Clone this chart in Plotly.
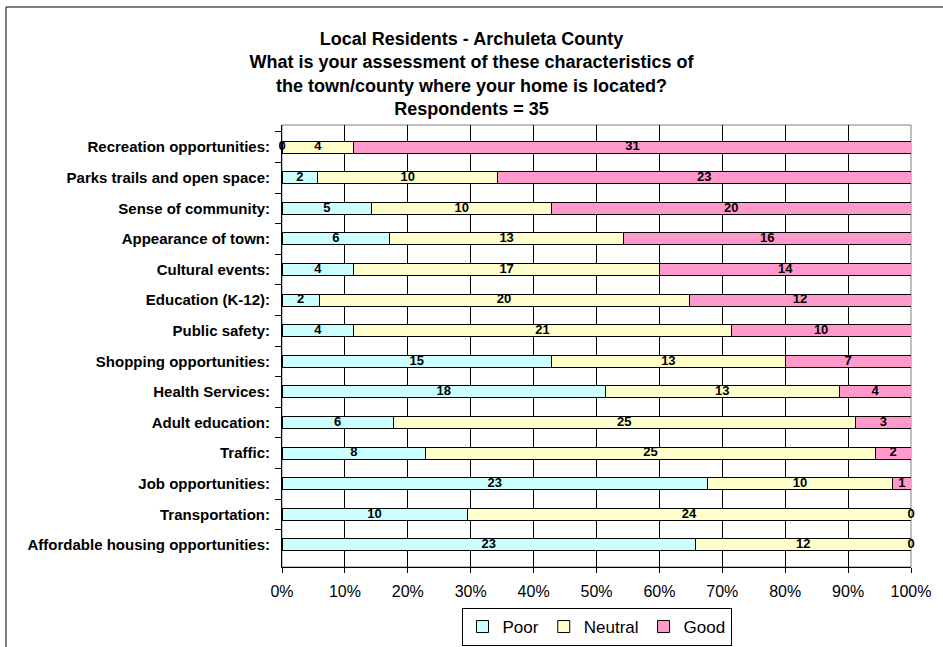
import plotly.graph_objects as go

# Survey answers (counts) per characteristic, top to bottom as in the chart
categories = [
    "Recreation opportunities:",
    "Parks trails and open space:",
    "Sense of community:",
    "Appearance of town:",
    "Cultural events:",
    "Education (K-12):",
    "Public safety:",
    "Shopping opportunities:",
    "Health Services:",
    "Adult education:",
    "Traffic:",
    "Job opportunities:",
    "Transportation:",
    "Affordable housing opportunities:",
]
poor = [0, 2, 5, 6, 4, 2, 4, 15, 18, 6, 8, 23, 10, 23]
neutral = [4, 10, 10, 13, 17, 20, 21, 13, 13, 25, 25, 10, 24, 12]
good = [31, 23, 20, 16, 14, 12, 10, 7, 4, 3, 2, 1, 0, 0]

series = [("Poor", poor, "#CCFFFF"), ("Neutral", neutral, "#FFFFCC"), ("Good", good, "#FF99CC")]
tick_vals = [0, 10, 20, 30, 40, 50, 60, 70, 80, 90, 100]
tick_text = [f"{v}%" for v in tick_vals]

fig = go.Figure()
for name, vals, col in series:
    fig.add_trace(go.Bar(
        y=categories, x=vals, name=name, orientation="h",
        marker=dict(color=col, line=dict(color="black", width=1)),
        hoverinfo="skip",
    ))

# data labels at the middle of each segment (in percent of the row total)
totals = [p + n + g for p, n, g in zip(poor, neutral, good)]
start = [0] * len(categories)
for name, vals, col in series:
    xs = []
    for i, v in enumerate(vals):
        pct = 100 * v / totals[i]
        xs.append(start[i] + pct / 2)
        start[i] += pct
    fig.add_trace(go.Scatter(
        y=categories, x=xs, mode="text", text=[str(v) for v in vals],
        textfont=dict(family="Liberation Sans", size=13, color="black", weight="bold"),
        showlegend=False, hoverinfo="skip", cliponaxis=False,
    ))

fig.update_layout(
    barmode="stack", barnorm="percent", bargap=0.61,
    width=943, height=647,
    margin=dict(l=282, r=32, t=125, b=80, autoexpand=False),
    paper_bgcolor="white", plot_bgcolor="white",
    font=dict(family="Liberation Sans", color="black"),
    title=dict(
        text="Local Residents - Archuleta County<br>What is your assessment of these characteristics of<br>"
             "the town/county where your home is located?<br>Respondents = 35",
        x=0.5, xref="container", xanchor="center",
        y=1 - 45 / 647, yref="container", yanchor="top",
        font=dict(size=18, weight="bold", family="Liberation Sans"),
    ),
    legend=dict(
        orientation="h", x=0.5, xanchor="center",
        y=1 / 647, yref="container", yanchor="bottom",
        bordercolor="black", borderwidth=1, font=dict(size=17),
        traceorder="normal", itemwidth=30,
    ),
    xaxis=dict(
        range=[0, 100], tickmode="array", tickvals=tick_vals, ticktext=tick_text,
        showgrid=True, gridcolor="black", gridwidth=1,
        showline=True, linecolor="black", linewidth=1,
        ticks="outside", ticklen=5, tickcolor="black", ticklabelstandoff=5,
        tickfont=dict(size=16), zeroline=False, fixedrange=True,
    ),
    yaxis=dict(
        categoryorder="array", categoryarray=categories, autorange="reversed",
        showline=True, linecolor="black", linewidth=1,
        ticks="outside", ticklen=6, tickcolor="black", tickson="boundaries",
        tickfont=dict(size=15, weight="bold"), ticklabelstandoff=8,
        showgrid=False, automargin=False, fixedrange=True,
    ),
    shapes=[
        dict(type="rect", xref="paper", yref="paper", x0=0, x1=1, y0=0, y1=1,
             line=dict(color="#808080", width=1), layer="below"),
        dict(type="rect", xref="paper", yref="paper",
             x0=(6 - 282) / 629, x1=1 + 60 / 629, y0=-100 / 442, y1=1 + 118 / 442,
             line=dict(color="black", width=1), layer="below"),
    ],
)

fig.write_html("out.html", config={"displayModeBar": False},
               post_script="document.body.style.margin='0';")
